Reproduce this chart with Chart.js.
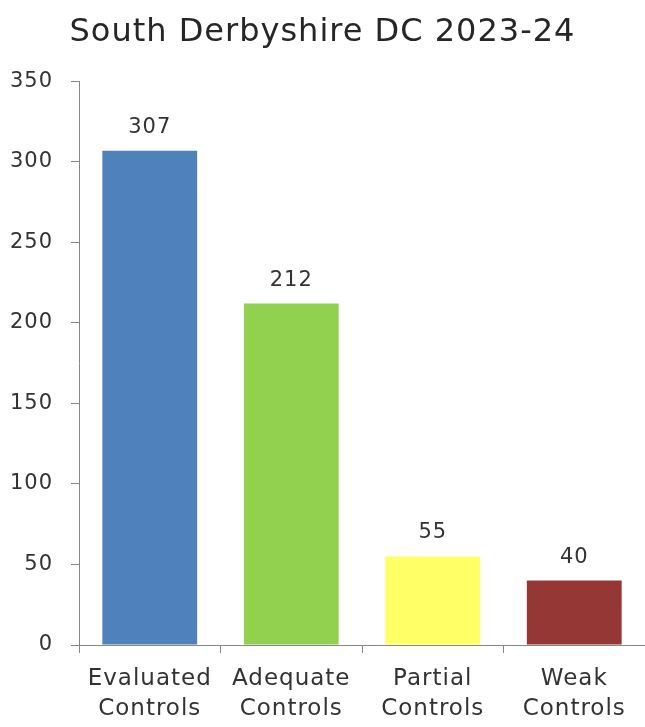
<!DOCTYPE html>
<html>
<head>
<meta charset="utf-8">
<script src="https://cdn.jsdelivr.net/npm/chart.js@4.4.1/dist/chart.umd.min.js"></script>
<style>
  html, body { margin: 0; padding: 0; background: #fff; }
  #wrap { width: 645px; height: 727px; }
</style>
</head>
<body>
<div id="wrap"><canvas id="chart" width="645" height="727"></canvas></div>
<script>
const categories = [["Evaluated", "Controls"], ["Adequate", "Controls"], ["Partial", "Controls"], ["Weak", "Controls"]];
const values = [307, 212, 55, 40];
const barColors = ["#4F81BD", "#92D050", "#FFFF66", "#953735"];
const yTicks = [0, 50, 100, 150, 200, 250, 300, 350];

const FONT = "'DejaVu Sans', sans-serif";
const TEXT = "#333333";

// wider letter spacing, closer to the original's Century Gothic look
const spacing = {
  id: 'spacing',
  beforeUpdate(chart) { chart.ctx.letterSpacing = '1px'; },
  beforeDraw(chart) { chart.ctx.letterSpacing = '1px'; }
};

// draws the numbers above each bar
const valueLabels = {
  id: 'valueLabels',
  afterDatasetsDraw(chart) {
    const ctx = chart.ctx;
    const meta = chart.getDatasetMeta(0);
    ctx.save();
    ctx.font = "21px " + FONT;
    ctx.fillStyle = TEXT;
    ctx.textAlign = "center";
    ctx.textBaseline = "bottom";
    meta.data.forEach((bar, i) => {
      ctx.fillText(values[i], bar.x, bar.y - 13);
    });
    ctx.restore();
  }
};

new Chart(document.getElementById("chart").getContext("2d"), {
  type: 'bar',
  data: {
    labels: categories,
    datasets: [{
      data: values,
      backgroundColor: barColors,
      barPercentage: 0.67,
      categoryPercentage: 1.0
    }]
  },
  options: {
    responsive: false,
    animation: false,
    layout: { padding: { left: 0, right: 0, top: 0, bottom: 0 } },
    plugins: {
      legend: { display: false },
      tooltip: { enabled: false },
      title: {
        display: true,
        text: 'South Derbyshire DC 2023-24',
        color: '#262626',
        font: { family: FONT, size: 32, weight: 'normal', lineHeight: 1.2 },
        padding: { top: 13, bottom: 30 }
      }
    },
    scales: {
      x: {
        offset: true,
        grid: { display: true, drawOnChartArea: false, drawTicks: true, tickLength: 8, color: '#868686', offset: true },
        border: { display: true, color: '#868686', width: 1 },
        ticks: { color: TEXT, font: { family: FONT, size: 23, lineHeight: 1.3 }, padding: 11, maxRotation: 0, autoSkip: false },
        afterFit: (axis) => { axis.height = 82; }
      },
      y: {
        min: 0,
        max: 350,
        afterBuildTicks: (axis) => { axis.ticks = yTicks.map(v => ({ value: v })); },
        grid: { display: true, drawOnChartArea: false, drawTicks: true, tickLength: 8, color: '#868686' },
        border: { display: true, color: '#868686', width: 1 },
        ticks: { color: TEXT, font: { family: FONT, size: 21 }, padding: 18 },
        afterFit: (axis) => { axis.width = 79; }
      }
    }
  },
  plugins: [spacing, valueLabels]
});
</script>
</body>
</html>
